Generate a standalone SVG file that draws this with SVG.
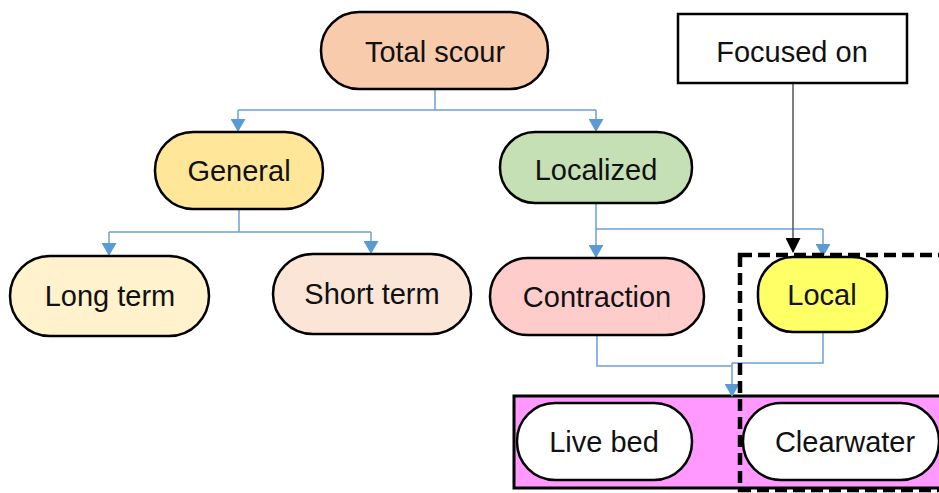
<svg xmlns="http://www.w3.org/2000/svg" width="939" height="493" viewBox="0 0 939 493">
<style>
.n{stroke:#000;stroke-width:2.5}
.t{font-family:"Liberation Sans",Arial,sans-serif;font-size:29px;fill:#111;text-anchor:middle}
.c{fill:none;stroke:#6FA0D4;stroke-width:1.5}
</style>
<defs>
<marker id="ab" markerWidth="13" markerHeight="15" refX="12" refY="7.5" orient="auto" markerUnits="userSpaceOnUse" viewBox="0 0 13 15">
<path d="M0,0 L13,7.5 L0,15 Z" fill="#5B9BD5"/>
</marker>
<marker id="ak" markerWidth="15" markerHeight="15" refX="14" refY="7.5" orient="auto" markerUnits="userSpaceOnUse" viewBox="0 0 15 15">
<path d="M0,0 L15,7.5 L0,15 Z" fill="#000"/>
</marker>
</defs>
<rect width="939" height="493" fill="#fff"/>
<g id="group-box">
<rect x="514" y="396" width="440" height="92" fill="#FF99FF" stroke="#000" stroke-width="3"/>
</g>
<g id="connectors">
<path class="c" d="M435,89 V110 M238,110 H596"/>
<path class="c" d="M238,110 V131" marker-end="url(#ab)"/>
<path class="c" d="M596,110 V131" marker-end="url(#ab)"/>
<path class="c" d="M239,209 V232 M109,232 H371"/>
<path class="c" d="M109,232 V255" marker-end="url(#ab)"/>
<path class="c" d="M371,232 V253" marker-end="url(#ab)"/>
<path class="c" d="M596,203 V229 H823"/>
<path class="c" d="M596,229 V257" marker-end="url(#ab)"/>
<path class="c" d="M823,229 V256" marker-end="url(#ab)"/>
<path class="c" d="M597,335 V366 H732"/>
<path class="c" d="M823,332 V363 H732"/>
<path class="c" d="M732,363 V396" marker-end="url(#ab)"/>
<path d="M793,84 V252" fill="none" stroke="#555" stroke-width="1.5" marker-end="url(#ak)"/>
</g>
<g id="total-scour">
<rect class="n" x="321" y="12" width="227" height="77" rx="38" fill="#F8CBAD"/>
<text class="t" x="435" y="62">Total scour</text>
</g>
<g id="focused-on">
<rect x="678" y="14" width="229" height="69" fill="#fff" stroke="#000" stroke-width="2.5"/>
<text class="t" x="792" y="62">Focused on</text>
</g>
<g id="general">
<rect class="n" x="155" y="132" width="168" height="77" rx="38" fill="#FFE699"/>
<text class="t" x="239" y="181">General</text>
</g>
<g id="localized">
<rect class="n" x="500" y="132" width="192" height="71" rx="35" fill="#C5E0B4"/>
<text class="t" x="596" y="180">Localized</text>
</g>
<g id="long-term">
<rect class="n" x="10" y="256" width="199" height="80" rx="40" fill="#FFF2CC"/>
<text class="t" x="110" y="306">Long term</text>
</g>
<g id="short-term">
<rect class="n" x="273" y="254" width="198" height="80" rx="40" fill="#FBE5D6"/>
<text class="t" x="372" y="304">Short term</text>
</g>
<g id="contraction">
<rect class="n" x="490" y="258" width="214" height="77" rx="38" fill="#FFCCCC"/>
<text class="t" x="597" y="307">Contraction</text>
</g>
<g id="local">
<rect class="n" x="758" y="257" width="129" height="75" rx="35" fill="#FFFF66"/>
<text class="t" x="822" y="305">Local</text>
</g>
<g id="live-bed">
<rect class="n" x="517" y="403" width="175" height="77" rx="38" fill="#fff"/>
<text class="t" x="604" y="452">Live bed</text>
</g>
<g id="clearwater">
<rect class="n" x="743" y="403" width="196" height="77" rx="38" fill="#fff"/>
<text class="t" x="845" y="452">Clearwater</text>
</g>
<g id="focus-box">
<rect x="740" y="255" width="230" height="235" fill="none" stroke="#000" stroke-width="4.5" stroke-dasharray="12,6"/>
</g>
</svg>
